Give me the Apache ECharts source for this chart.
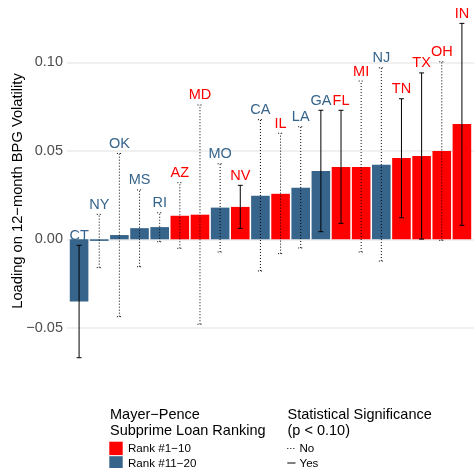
<!DOCTYPE html>
<html>
<head>
<meta charset="utf-8">
<script src="https://cdn.jsdelivr.net/npm/echarts@6/dist/echarts.min.js"></script>
<style>
html,body{margin:0;padding:0;background:#fff;}
#chart{width:474px;height:468px;}
</style>
</head>
<body>
<div id="chart"></div>
<script>
// ---- Data ----
const states = ['CT','NY','OK','MS','RI','AZ','MD','MO','NV','CA','IL','LA','GA','FL','MI','NJ','TN','TX','OH','IN'];
const rankGroup = ['11-20','11-20','11-20','11-20','11-20','1-10','1-10','11-20','1-10','11-20','1-10','11-20','11-20','1-10','1-10','11-20','1-10','1-10','1-10','1-10'];
const estimates = [-0.0352,-0.0009,0.0024,0.0063,0.0069,0.0133,0.0139,0.0179,0.0183,0.0246,0.0257,0.0291,0.0386,0.0408,0.0409,0.0421,0.0459,0.0471,0.0499,0.0651];
const ciLow  = [-0.0669,-0.0160,-0.0437,-0.0155,-0.0014,-0.0051,-0.0480,-0.0072,0.0062,-0.0179,-0.0081,-0.0049,0.0043,0.0090,-0.0072,-0.0123,0.0122,0.0001,-0.0006,0.0079];
const ciHigh = [-0.0034,0.0141,0.0485,0.0279,0.0150,0.0320,0.0759,0.0427,0.0305,0.0676,0.0599,0.0636,0.0729,0.0729,0.0894,0.0969,0.0794,0.0940,0.1003,0.1220];
const significant = [true,false,false,false,false,false,false,false,true,false,false,false,true,true,false,false,true,true,false,true];
const yTicks = [-0.05, 0, 0.05, 0.10];
const legendRankLabels = ['Rank #1\u221210', 'Rank #11\u221220'];
const legendSigLabels = ['No', 'Yes'];

// ---- Styling ----
const FONT = '"Liberation Sans", Arial, Helvetica, sans-serif';
const RED = '#FF0000';
const BLUE = '#36648B';
const groupColor = g => g === '1-10' ? RED : BLUE;

const barData = states.map((s, i) => ({
  value: [i, estimates[i]],
  itemStyle: { color: groupColor(rankGroup[i]) }
}));
const errData = states.map((s, i) => [i, ciLow[i], ciHigh[i], significant[i] ? 1 : 0]);

const CAP = 0.123;
const PX_PER_UNIT = 1770;
const ZERO_Y = 239.3;
const Y_MIN = -0.1;
const Y_MAX = ZERO_Y / PX_PER_UNIT;

const chart = echarts.init(document.getElementById('chart'), null, { renderer: 'canvas' });
const option = {
  backgroundColor: '#fff',
  animation: false,
  grid: { left: 67, top: 0, width: 409.5, height: (Y_MAX - Y_MIN) * PX_PER_UNIT, containLabel: false },
  xAxis: {
    type: 'value', min: -0.6, max: 19.6, show: false, splitLine: { show: false }
  },
  yAxis: {
    type: 'value', min: Y_MIN, max: Y_MAX, interval: 0.05,
    axisLine: { show: false }, axisTick: { show: false },
    axisLabel: {
      margin: 4, color: '#4D4D4D', fontSize: 14.5, fontFamily: FONT,
      showMinLabel: false, showMaxLabel: false,
      formatter: function (v) {
        const hit = yTicks.find(t => Math.abs(t - v) < 1e-9);
        if (hit === undefined) return '';
        return (hit < 0 ? '\u2212' : '') + Math.abs(hit).toFixed(2);
      }
    },
    splitLine: {
      show: true,
      lineStyle: { width: 1.6, color: ['rgba(0,0,0,0)', '#EBEBEB', '#EBEBEB', '#EBEBEB', '#EBEBEB', 'rgba(0,0,0,0)'] }
    }
  },
  series: [
    {
      type: 'bar',
      data: barData,
      barWidth: 18.6,
      z: 2
    },
    {
      type: 'custom',
      data: errData,
      encode: { x: 0, y: [1, 2] },
      z: 5,
      clip: false,
      renderItem: function (params, api) {
        const i = api.value(0);
        const lo = api.coord([i, api.value(1)]);
        const hi = api.coord([i, api.value(2)]);
        const xl = api.coord([i - CAP, 0])[0];
        const xr = api.coord([i + CAP, 0])[0];
        const sig = api.value(3) === 1;
        const st = { stroke: '#000', lineWidth: 1, fill: null, lineDash: sig ? null : [1, 2] };
        return {
          type: 'group',
          children: [
            { type: 'line', shape: { x1: lo[0], y1: lo[1], x2: hi[0], y2: hi[1] }, style: st },
            { type: 'line', shape: { x1: xl, y1: lo[1], x2: xr, y2: lo[1] }, style: st },
            { type: 'line', shape: { x1: xl, y1: hi[1], x2: xr, y2: hi[1] }, style: st },
            {
              type: 'text', x: hi[0], y: hi[1] - 9.5,
              style: {
                text: states[i], fill: groupColor(rankGroup[i]),
                fontSize: 14.5, fontFamily: FONT, align: 'center', verticalAlign: 'middle'
              }
            }
          ]
        };
      }
    }
  ],
  graphic: [
    { type: 'text', x: 17.5, y: 191, rotation: Math.PI / 2,
      style: { text: 'Loading on 12\u2212month BPG Volatility', fill: '#000', fontSize: 14.7, fontFamily: FONT, align: 'center', verticalAlign: 'middle' } },
    // Left legend
    { type: 'text', x: 110, y: 414.5, style: { text: 'Mayer\u2212Pence', fill: '#000', fontSize: 14.5, fontFamily: FONT, align: 'left', verticalAlign: 'middle' } },
    { type: 'text', x: 110, y: 430.8, style: { text: 'Subprime Loan Ranking', fill: '#000', fontSize: 14.5, fontFamily: FONT, align: 'left', verticalAlign: 'middle' } },
    { type: 'rect', shape: { x: 109.3, y: 441.7, width: 13.4, height: 13.4 }, style: { fill: RED } },
    { type: 'rect', shape: { x: 109.3, y: 456.2, width: 13.4, height: 13.4 }, style: { fill: BLUE } },
    { type: 'text', x: 128, y: 448.7, style: { text: legendRankLabels[0], fill: '#000', fontSize: 11.6, fontFamily: FONT, align: 'left', verticalAlign: 'middle' } },
    { type: 'text', x: 128, y: 463.6, style: { text: legendRankLabels[1], fill: '#000', fontSize: 11.6, fontFamily: FONT, align: 'left', verticalAlign: 'middle' } },
    // Right legend
    { type: 'text', x: 287.5, y: 414.5, style: { text: 'Statistical Significance', fill: '#000', fontSize: 14.5, fontFamily: FONT, align: 'left', verticalAlign: 'middle' } },
    { type: 'text', x: 287.5, y: 430.8, style: { text: '(p < 0.10)', fill: '#000', fontSize: 14.5, fontFamily: FONT, align: 'left', verticalAlign: 'middle' } },
    { type: 'line', shape: { x1: 287.3, y1: 448.5, x2: 295.5, y2: 448.5 }, style: { stroke: '#000', lineWidth: 1, lineDash: [1, 2] } },
    { type: 'line', shape: { x1: 287.3, y1: 463, x2: 295.5, y2: 463 }, style: { stroke: '#000', lineWidth: 1 } },
    { type: 'text', x: 299.5, y: 448.7, style: { text: legendSigLabels[0], fill: '#000', fontSize: 11.6, fontFamily: FONT, align: 'left', verticalAlign: 'middle' } },
    { type: 'text', x: 299.5, y: 463.6, style: { text: legendSigLabels[1], fill: '#000', fontSize: 11.6, fontFamily: FONT, align: 'left', verticalAlign: 'middle' } }
  ]
};
chart.setOption(option);
</script>
</body>
</html>
